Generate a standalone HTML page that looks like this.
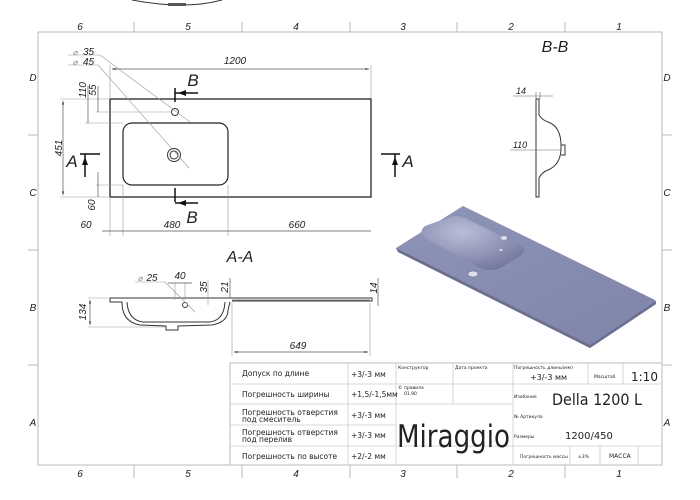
<!DOCTYPE html>
<html><head><meta charset="utf-8"><style>
html,body{margin:0;padding:0;background:#fff;}
svg{display:block;font-family:"Liberation Sans",sans-serif;}
.t{font-style:italic;fill:#222;}
.c{font-family:"DejaVu Sans","Liberation Sans",sans-serif;fill:#222;}
</style></head><body>
<svg width="700" height="500" viewBox="0 0 700 500" xmlns="http://www.w3.org/2000/svg">
<defs>
<marker id="ar" markerWidth="6" markerHeight="6" refX="5" refY="3" orient="auto-start-reverse"><path d="M0,1.5 L5,3 L0,4.5z" fill="#333"/></marker>
<linearGradient id="g3" x1="0" y1="0" x2="1" y2="1"><stop offset="0" stop-color="#8e94b8"/><stop offset="1" stop-color="#7f85a8"/></linearGradient>
<radialGradient id="gb" cx="0.4" cy="0.3" r="0.8"><stop offset="0" stop-color="#b9bdd6"/><stop offset="0.6" stop-color="#8d92b5"/><stop offset="1" stop-color="#6e7396"/></radialGradient>
</defs>
<path d="M132,0 Q185,10 222,0" fill="none" stroke="#333" stroke-width="1"/>
<rect x="168" y="3" width="18" height="3" fill="#555"/>
<rect x="38" y="32" width="624" height="433" fill="none" stroke="#bbb" stroke-width="1"/>
<g stroke="#bbb" stroke-width="1">
<line x1="134" y1="22" x2="134" y2="32"/><line x1="242" y1="22" x2="242" y2="32"/><line x1="350" y1="22" x2="350" y2="32"/><line x1="457" y1="22" x2="457" y2="32"/><line x1="565" y1="22" x2="565" y2="32"/>
<line x1="134" y1="465" x2="134" y2="478"/><line x1="242" y1="465" x2="242" y2="478"/><line x1="350" y1="465" x2="350" y2="478"/><line x1="457" y1="465" x2="457" y2="478"/><line x1="565" y1="465" x2="565" y2="478"/>
<line x1="28" y1="135" x2="38" y2="135"/><line x1="28" y1="250" x2="38" y2="250"/><line x1="28" y1="365" x2="38" y2="365"/>
<line x1="662" y1="135" x2="672" y2="135"/><line x1="662" y1="250" x2="672" y2="250"/><line x1="662" y1="365" x2="672" y2="365"/>
</g>
<g class="t" font-size="10" text-anchor="middle">
<text x="80" y="30">6</text><text x="188" y="30">5</text><text x="296" y="30">4</text><text x="403" y="30">3</text><text x="511" y="30">2</text><text x="619" y="30">1</text>
<text x="80" y="477">6</text><text x="188" y="477">5</text><text x="296" y="477">4</text><text x="403" y="477">3</text><text x="511" y="477">2</text><text x="619" y="477">1</text>
<text x="33" y="81">D</text><text x="33" y="196">C</text><text x="33" y="311">B</text><text x="33" y="426">A</text>
<text x="667" y="81">D</text><text x="667" y="196">C</text><text x="667" y="311">B</text><text x="667" y="426">A</text>
</g>

<rect x="110" y="99" width="261" height="98" fill="none" stroke="#222" stroke-width="1.3"/>
<rect x="123" y="123" width="105" height="62" rx="9" fill="none" stroke="#222" stroke-width="1.2"/>
<circle cx="174" cy="155" r="6.5" fill="none" stroke="#333"/><circle cx="174" cy="155" r="4" fill="none" stroke="#333"/>
<circle cx="175" cy="112" r="3.5" fill="none" stroke="#333"/>
<g stroke="#999" stroke-width="0.6" fill="none">
<line x1="68" y1="55" x2="100" y2="55"/><line x1="100" y1="55" x2="190" y2="122"/>
<line x1="68" y1="65" x2="98" y2="65"/><line x1="98" y1="65" x2="189" y2="168"/>
<line x1="110" y1="65" x2="110" y2="99"/><line x1="371" y1="65" x2="371" y2="99"/>
<line x1="60" y1="99" x2="110" y2="99"/><line x1="60" y1="197" x2="110" y2="197"/>
<line x1="85" y1="123" x2="123" y2="123"/><line x1="96" y1="112" x2="172" y2="112"/>
<line x1="96" y1="185" x2="123" y2="185"/>
<line x1="110" y1="197" x2="110" y2="236"/><line x1="123" y1="185" x2="123" y2="236"/><line x1="228" y1="185" x2="228" y2="236"/>
</g>
<g stroke="#555" stroke-width="0.7" fill="none">
<line x1="112" y1="69" x2="369" y2="69" marker-start="url(#ar)" marker-end="url(#ar)"/>
<line x1="63" y1="101" x2="63" y2="195" marker-start="url(#ar)" marker-end="url(#ar)"/>
<line x1="88" y1="86" x2="88" y2="123"/><line x1="98" y1="86" x2="98" y2="112"/>
<line x1="98" y1="172" x2="98" y2="197"/>
<line x1="102" y1="231" x2="371" y2="231"/>
</g>
<g class="t" font-size="10" text-anchor="middle">
<text x="235" y="64">1200</text>
<text x="83" y="55" text-anchor="start">35</text><text x="83" y="65" text-anchor="start">45</text>
<text x="75" y="55" font-size="8" fill="#888">⌀</text><text x="75" y="65" font-size="8" fill="#888">⌀</text>
<text transform="translate(86,90) rotate(-90)" >110</text><text transform="translate(96,90) rotate(-90)">55</text>
<text transform="translate(62,148) rotate(-90)">451</text>
<text transform="translate(95,205) rotate(-90)">60</text>
<text x="86" y="228">60</text><text x="172" y="228">480</text><text x="297" y="228">660</text>
</g>
<g stroke="#111" stroke-width="1.5" fill="none">
<line x1="175" y1="88" x2="175" y2="102"/><line x1="175" y1="93" x2="198" y2="93"/>
<line x1="175" y1="188" x2="175" y2="202"/><line x1="175" y1="203" x2="198" y2="203"/>
<line x1="80" y1="154" x2="100" y2="154"/><line x1="85" y1="154" x2="85" y2="177"/>
<line x1="381" y1="154" x2="400" y2="154"/><line x1="395" y1="154" x2="395" y2="177"/>
</g>
<g fill="#111"><path d="M178,93 l8,-3 v6z"/><path d="M178,203 l8,-3 v6z"/><path d="M85,157 l-3,8 h6z"/><path d="M395,157 l-3,8 h6z"/></g>
<g class="t" font-size="17" text-anchor="middle">
<text x="193" y="86">B</text><text x="192" y="223">B</text><text x="72" y="167">A</text><text x="408" y="167">A</text>
</g>

<text class="t" x="240" y="262" font-size="16" text-anchor="middle">A-A</text>
<g stroke="#333" stroke-width="1" fill="none">
<path d="M110,298 H372 V301 H232"/>
<path d="M110,298 V302 H122 Q122,322 140,325 L166,326 V330 H178 V326 L212,325 Q228,322 228,310 L230,302"/>
<path d="M127,302 Q128,320 143,322 L210,322 Q224,320 225,302"/>
<line x1="232" y1="300" x2="370" y2="300" stroke="#888"/>
</g>
<circle cx="185" cy="305" r="2.5" fill="none" stroke="#333"/>
<g stroke="#999" stroke-width="0.6" fill="none">
<line x1="135" y1="282" x2="165" y2="282"/><line x1="165" y1="282" x2="195" y2="312"/>
<line x1="88" y1="298" x2="110" y2="298"/><line x1="88" y1="327" x2="166" y2="327"/>
<line x1="232" y1="303" x2="232" y2="356"/><line x1="370" y1="303" x2="370" y2="356"/>
<line x1="175" y1="283" x2="175" y2="300"/><line x1="185" y1="283" x2="185" y2="300"/>
<line x1="208" y1="305" x2="208" y2="280"/>
</g>
<g stroke="#555" stroke-width="0.7" fill="none">
<line x1="90" y1="300" x2="90" y2="325" marker-start="url(#ar)" marker-end="url(#ar)"/>
<line x1="234" y1="352" x2="368" y2="352" marker-start="url(#ar)" marker-end="url(#ar)"/>
<line x1="168" y1="283" x2="192" y2="283"/>
<line x1="230" y1="278" x2="230" y2="298"/><line x1="378" y1="278" x2="378" y2="306"/>
</g>
<g class="t" font-size="10" text-anchor="middle">
<text x="152" y="281">25</text><text x="140" y="281" font-size="8" fill="#888">⌀</text>
<text x="180" y="279">40</text>
<text transform="translate(207,287) rotate(-90)">35</text>
<text transform="translate(228,287) rotate(-90)">21</text>
<text transform="translate(377,288) rotate(-90)">14</text>
<text transform="translate(86,312) rotate(-90)">134</text>
<text x="298" y="349">649</text>
</g>

<text class="t" x="555" y="52" font-size="16" text-anchor="middle">B-B</text>
<g stroke="#333" stroke-width="1" fill="none">
<path d="M536,99 V197 H539 V178 Q542,172 548,170 Q560,165 561,150 V143 Q560,126 548,122 Q542,120 539,115 V99 Z"/>
<path d="M561,145 h4 v10 h-4"/>
</g>
<g stroke="#666" stroke-width="0.6" fill="none">
<line x1="513" y1="96" x2="553" y2="96"/><line x1="536" y1="92" x2="536" y2="99"/><line x1="540" y1="92" x2="540" y2="99"/>
<line x1="510" y1="150" x2="561" y2="150"/>
</g>
<text class="t" x="521" y="94" font-size="9" text-anchor="middle">14</text>
<text class="t" x="520" y="148" font-size="9" text-anchor="middle">110</text>

<path d="M463,206 L396,248 L398,252 L590,348 L656,304 L655,300 Z" fill="url(#g3)"/>
<path d="M396,248 L590,345 L656,301 L656,304 L590,348 L398,252Z" fill="#6a6f90"/>
<path d="M425,226 Q418,232 425,238 L480,268 Q490,272 500,268 L520,256 Q528,250 520,245 L465,218 Q455,214 447,218 Z" fill="url(#gb)"/>
<ellipse cx="473" cy="274" rx="5" ry="3" fill="#dde" stroke="#667" stroke-width="0.5"/>
<ellipse cx="504" cy="238" rx="3" ry="2" fill="#dde"/>
<ellipse cx="501" cy="250" rx="1.5" ry="1" fill="#dde"/>

<rect x="230" y="363" width="432" height="102" fill="#fff" stroke="#bbb"/>
<g stroke="#ccc" stroke-width="0.8">
<line x1="230" y1="384" x2="396" y2="384"/><line x1="230" y1="404" x2="396" y2="404"/><line x1="230" y1="425" x2="396" y2="425"/><line x1="230" y1="446" x2="662" y2="446"/>
<line x1="348" y1="363" x2="348" y2="465"/><line x1="396" y1="363" x2="396" y2="465"/>
<line x1="396" y1="384" x2="513" y2="384"/><line x1="396" y1="404" x2="513" y2="404"/>
<line x1="453" y1="363" x2="453" y2="404"/><line x1="513" y1="363" x2="513" y2="465"/>
<line x1="513" y1="384" x2="662" y2="384"/>
<line x1="588" y1="363" x2="588" y2="384"/><line x1="623" y1="363" x2="623" y2="384"/>
<line x1="570" y1="446" x2="570" y2="465"/><line x1="600" y1="446" x2="600" y2="465"/><line x1="638" y1="446" x2="638" y2="465"/>
</g>
<g class="c" font-size="7.5">
<text x="242" y="376">Допуск по длине</text>
<text x="242" y="397">Погрешность ширины</text>
<text x="242" y="415">Погрешность отверстия</text><text x="242" y="422">под смеситель</text>
<text x="242" y="435">Погрешность отверстия</text><text x="242" y="442">под перелив</text>
<text x="242" y="459">Погрешность по высоте</text>
<text x="351" y="377">+3/-3 мм</text><text x="351" y="397">+1,5/-1,5мм</text><text x="351" y="418">+3/-3 мм</text><text x="351" y="438">+3/-3 мм</text><text x="351" y="459">+2/-2 мм</text>
<text x="398" y="369" font-size="4.5">Конструктор</text><text x="455" y="369" font-size="4.5">Дата проекта</text>
<text x="398" y="389" font-size="4.5">© правила</text><text x="404" y="395" font-size="4.5">01.90</text>
<text x="514" y="369" font-size="4.5">Погрешность длины(мм)</text>
<text x="530" y="380" font-size="8">+3/-3 мм</text>
<text x="594" y="378" font-size="4.5">Масштаб</text>
<text x="631" y="381" font-size="12">1:10</text>
<text x="514" y="398" font-size="4.5">Изобание</text>
<text x="552" y="405" font-size="16" textLength="90" lengthAdjust="spacingAndGlyphs">Della 1200 L</text>
<text x="514" y="418" font-size="4.5">№ Артикула</text>
<text x="514" y="438" font-size="4.5">Размеры</text>
<text x="565" y="439" font-size="10">1200/450</text>
<text x="520" y="458" font-size="4.5">Погрешность массы</text>
<text x="578" y="458" font-size="4.5">±3%</text>
<text x="609" y="458" font-size="6">МАССА</text>
<text x="397" y="447" font-size="31" textLength="113" lengthAdjust="spacingAndGlyphs">Miraggio</text>
</g>
</svg>
</body></html>
